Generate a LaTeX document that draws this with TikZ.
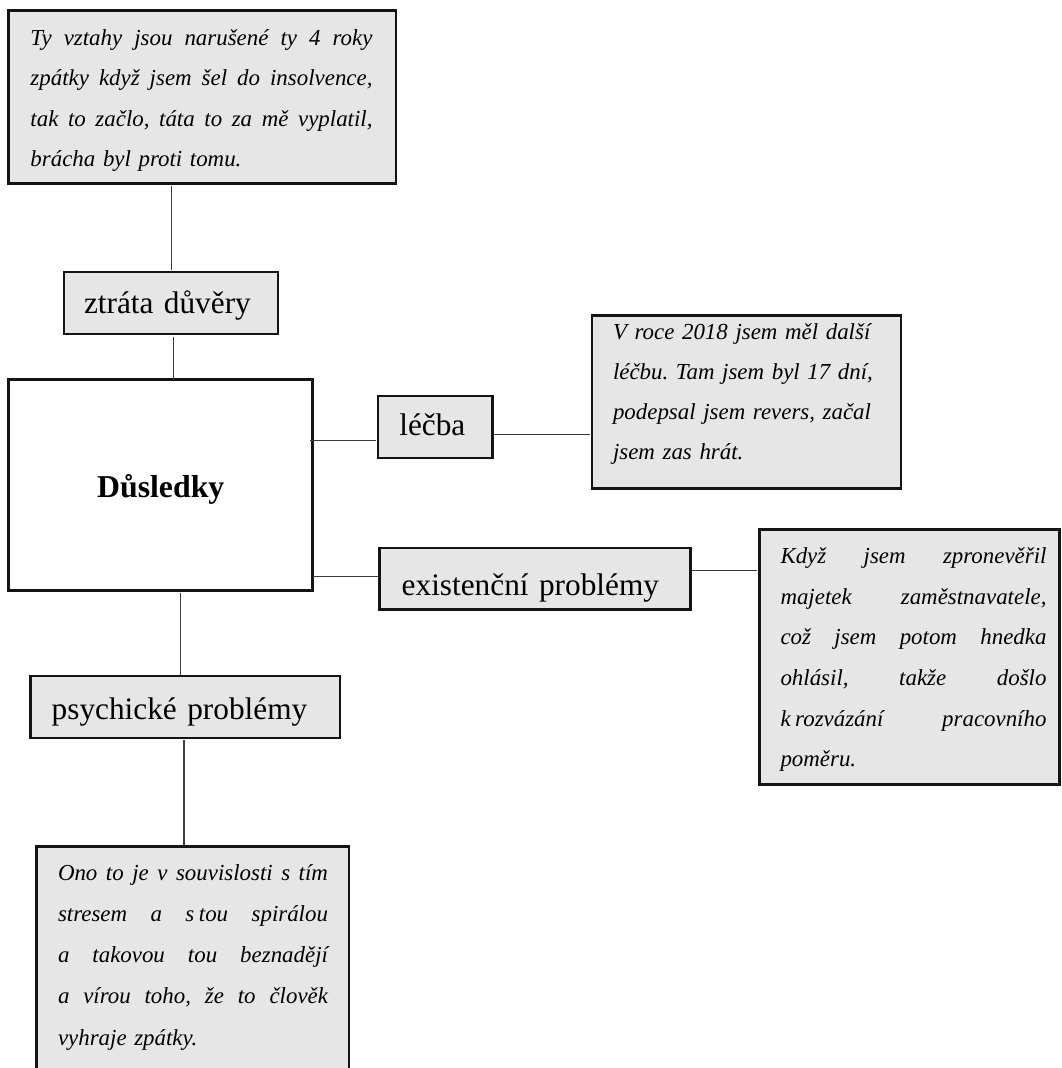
\documentclass[tikz,border=0pt]{standalone}
\usepackage{fontspec}
\setmainfont{Liberation Serif}

\definecolor{boxgray}{RGB}{230,230,230}
\definecolor{edge}{RGB}{20,20,20}
\definecolor{wire}{RGB}{60,60,60}

% label font and quotation font (size, baselineskip)
\newcommand{\lbfont}{\fontsize{31.3}{38}\selectfont}
\newcommand{\qfont}[1]{\fontsize{22.9}{#1}\selectfont\itshape}
% one justified line of a given width: word spaces stretch to fill it
\newcommand{\jl}[2]{\makebox[#1pt][s]{\spaceskip=0.25em plus 3em minus 0.05em\relax #2}\\}
% box given by its corners, the left edge of its text and its first baseline
% #1 name, #2 style, #3 x1, #4 y1, #5 x2, #6 y2, #7 text left, #8 first baseline, #9 text
\newcommand{\tbox}[9]{%
  \pgfmathsetmacro\tbpad{#7-#3}%
  \pgfmathsetmacro\tbw{#5-#3-2*(#7-#3)}%
  \pgfmathsetmacro\tbh{#8-#4}%
  \pgfmathsetmacro\tbd{#6-#8}%
  \node[#2, anchor=base west, outer sep=0pt, inner ysep=0pt,
        inner xsep=\tbpad pt, text width=\tbw pt,
        text height=\tbh pt, text depth=\tbd pt] (#1) at (#3,#8) {#9};%
}

\tikzset{
  card/.style={draw=edge, fill=boxgray, line width=2.7pt, align=left},
  tag/.style={draw=edge, fill=boxgray, line width=2.2pt, align=left, font=\lbfont},
  core/.style={draw=edge, fill=white, line width=2.7pt, align=center, font=\lbfont\bfseries},
  conn/.style={draw=wire, line width=1.3pt},
}

\frenchspacing
\begin{document}
\begin{tikzpicture}[x=1pt, y=-1pt]
  \useasboundingbox (0,0) rectangle (1061,1068);
  \fill[white] (0,0) rectangle (1061,1068);
  \clip (0,0) rectangle (1061,1068);

  % central box
  \tbox{main}{core}{8.7}{379.7}{312.8}{590.5}{18.7}{497.3}{\fontsize{31.8}{38}\selectfont Důsledky}

  % category boxes
  \tbox{trustloss}{tag}{64}{272.2}{278.3}{333.8}{84}{313.3}{ztráta důvěry}
  \tbox{therapy}{tag}{377.8}{396.2}{492.5}{458.3}{399.3}{435.7}{léčba}
  \tbox{existence}{tag}{379.5}{547.8}{690.5}{609.5}{401.7}{595}{existenční problémy}
  \tbox{psyche}{tag}{30.5}{676.2}{340}{737.8}{51.7}{719.3}{psychické problémy}

  % quotation boxes
  \tbox{qtrust}{card, font=\qfont{40.6}}{8.7}{10.3}{396}{183.3}{30.5}{45}{%
    \jl{342}{Ty vztahy jsou narušené ty 4 roky}%
    \jl{342}{zpátky když jsem šel do insolvence,}%
    \jl{342}{tak to začlo, táta to za mě vyplatil,}%
    brácha byl proti tomu.}

  \tbox{qtherapy}{card, font=\qfont{40}}{592}{315.3}{901}{488.7}{613}{339.3}{%
    V roce 2018 jsem měl další\\
    léčbu. Tam jsem byl 17 dní,\\
    podepsal jsem revers, začal\\
    jsem zas hrát.}

  \tbox{qexist}{card, font=\qfont{40.7}}{759.7}{529.7}{1059.5}{784.7}{780.5}{563.3}{%
    \jl{266}{Když jsem zpronevěřil}%
    \jl{266}{majetek zaměstnavatele,}%
    \jl{266}{což jsem potom hnedka}%
    \jl{266}{ohlásil, takže došlo}%
    \jl{266}{k\kern0.2em rozvázání pracovního}%
    poměru.}

  \tbox{qpsyche}{card, font=\qfont{41.25}}{36.3}{846.3}{349}{1110}{58}{880}{%
    \jl{270}{Ono to je v souvislosti s tím}%
    \jl{270}{stresem a s\kern0.2em tou spirálou}%
    \jl{270}{a takovou tou beznadějí}%
    \jl{270}{a vírou toho, že to člověk}%
    vyhraje zpátky.}

  % connector positions
  \coordinate (v1) at (171.7,0);
  \coordinate (v2) at (173.7,0);
  \coordinate (h3) at (0,440.7);
  \coordinate (h4) at (0,434.3);
  \coordinate (h5) at (0,576.5);
  \coordinate (h6) at (0,570.7);
  \coordinate (v7) at (180.7,0);
  \coordinate (v8) at (184,0);

  % connectors
  \draw[conn, shorten <=3pt, shorten >=2pt] (qtrust.south -| v1) -- (trustloss.north -| v1);
  \draw[conn, shorten <=3pt] (trustloss.south -| v2) -- (main.north -| v2);
  \draw[conn, shorten <=-2.8pt, shorten >=2pt] (main.east |- h3) -- (therapy.west |- h3);
  \draw[conn, shorten <=1.5pt, shorten >=2pt] (therapy.east |- h4) -- (qtherapy.west |- h4);
  \draw[conn, shorten >=1.5pt] (main.east |- h5) -- (existence.west |- h5);
  \draw[conn, shorten <=0.5pt, shorten >=2.7pt] (existence.east |- h6) -- (qexist.west |- h6);
  \draw[conn, shorten <=2.5pt, shorten >=1.2pt] (main.south -| v7) -- (psyche.north -| v7);
  \draw[conn, shorten <=2.2pt, shorten >=1.3pt] (psyche.south -| v8) -- (qpsyche.north -| v8);
\end{tikzpicture}
\end{document}
